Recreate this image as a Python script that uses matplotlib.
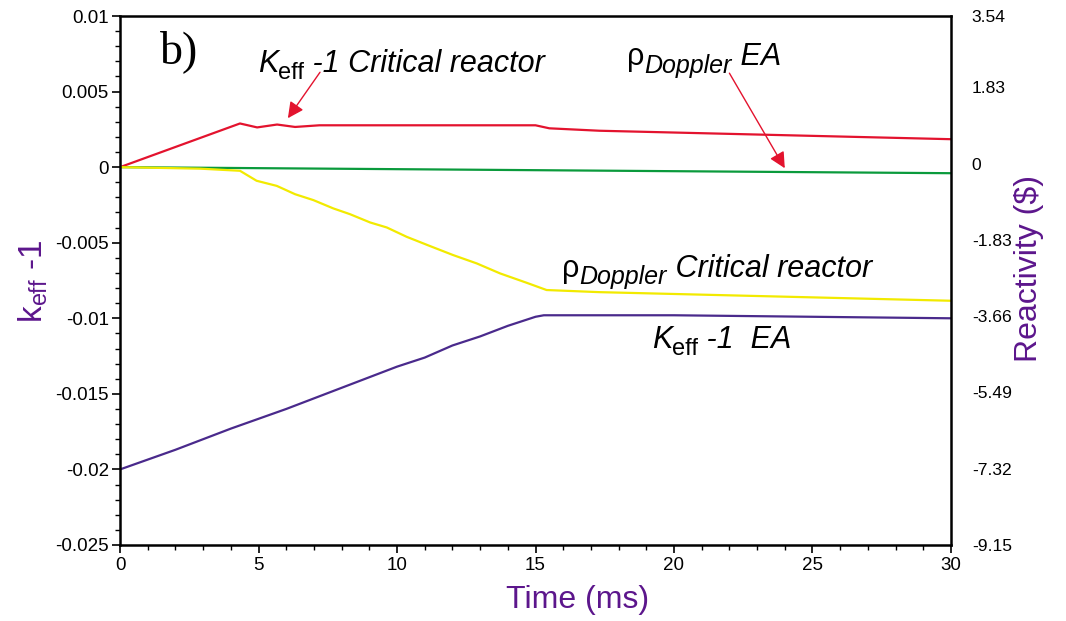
import numpy as np
import matplotlib
matplotlib.use("Agg")
import matplotlib.pyplot as plt
from matplotlib.ticker import MultipleLocator

plt.rcParams['font.family'] = ['Liberation Sans', 'DejaVu Sans']
plt.rcParams['mathtext.fontset'] = 'custom'
plt.rcParams['mathtext.rm'] = 'Liberation Sans'
plt.rcParams['mathtext.it'] = 'Liberation Sans:italic'
plt.rcParams['mathtext.bf'] = 'Liberation Sans:bold'

# keff-1, reacteur critique (rouge)
t_crit = [0, 4.33, 4.95, 5.67, 6.32, 7.2, 10, 15.0, 15.5, 17.3, 30]
k_crit = [0, 0.00289, 0.00263, 0.00282, 0.00266, 0.00277, 0.00277, 0.00277, 0.00257, 0.00241, 0.00185]

# rho Doppler EA (vert)
t_dop_ea = [0, 30]
r_dop_ea = [0, -0.0004]

# rho Doppler reacteur critique (jaune)
t_dop_crit = [0, 2.9, 4.33, 4.93, 5.66, 6.32, 6.98, 7.7, 8.3, 9.03, 9.63, 10.35, 11.19,
              12.03, 12.88, 13.72, 14.68, 15.4, 17.3, 30]
r_dop_crit = [0, -0.0001, -0.00024, -0.0009, -0.00124, -0.00179, -0.00218, -0.00273, -0.00311,
              -0.00366, -0.00399, -0.00461, -0.00522, -0.00582, -0.00637, -0.00703, -0.00765,
              -0.00813, -0.00827, -0.00884]

# keff-1 EA (violet)
t_ea = [0, 2, 4, 6, 8, 10, 11, 12, 13, 14, 15, 15.3, 20, 25, 30]
k_ea = [-0.02, -0.0187, -0.0173, -0.0160, -0.0146, -0.0132, -0.0126, -0.0118, -0.0112,
        -0.0105, -0.0099, -0.0098, -0.0098, -0.0099, -0.0100]

reac_ticks = [3.54, 1.83, 0, -1.83, -3.66, -5.49, -7.32, -9.15]

violet = '#5c168c'
rouge = '#e3132e'


def etiquette(ax, x, y, morceaux):
    # morceaux : (texte, taille, style, decalage vertical en points)
    txt, fs, st, dy = morceaux[0]
    prec = ax.text(x, y, txt, fontsize=fs, style=st, va='baseline', ha='left')
    for txt, fs, st, dy in morceaux[1:]:
        prec = ax.annotate(txt, xy=(1, y), xycoords=(prec, 'data'), xytext=(0, dy),
                           textcoords='offset points', fontsize=fs, style=st,
                           va='baseline', ha='left')


def fleche(ax, pointe, queue):
    ax.annotate('', xy=pointe, xytext=queue,
                arrowprops=dict(arrowstyle='-|>', color=rouge, lw=1.0, mutation_scale=24,
                                shrinkA=0, shrinkB=0))


fig = plt.figure(figsize=(10.66, 6.21), dpi=100)
ax = fig.add_axes([0.1126, 0.1224, 0.7795, 0.8518])

ax.plot(t_crit, k_crit, color=rouge, lw=1.6)
ax.plot(t_dop_ea, r_dop_ea, color='#0a9a3c', lw=1.6)
ax.plot(t_dop_crit, r_dop_crit, color='#f2ea00', lw=1.6)
ax.plot(t_ea, k_ea, color='#4a2a8c', lw=1.6)

ax.set_xlim(0, 30)
ax.set_ylim(-0.025, 0.01)
ax.xaxis.set_major_locator(MultipleLocator(5))
ax.xaxis.set_minor_locator(MultipleLocator(1))
ax.yaxis.set_minor_locator(MultipleLocator(0.001))
ax.set_yticks([0.01, 0.005, 0, -0.005, -0.01, -0.015, -0.02, -0.025])
ax.set_yticklabels(['0.01', '0.005', '0', '-0.005', '-0.01', '-0.015', '-0.02', '-0.025'])
ax.tick_params(which='major', length=6, width=1.2, labelsize=13.5, pad=2)
ax.tick_params(which='minor', length=3.5, width=1.0)
ax.tick_params(axis='x', which='major', pad=3)
for s in ax.spines.values():
    s.set_linewidth(1.8)

ax2 = ax.twinx()
ax2.set_ylim(-9.15, 3.54)
ax2.set_yticks(reac_ticks)
ax2.set_yticklabels(['%g' % v for v in reac_ticks])
ax2.tick_params(length=0, labelsize=12.6, pad=15)
for s in ax2.spines.values():
    s.set_visible(False)

ax.set_xlabel('Time (ms)', fontsize=23, color=violet)
ax.xaxis.set_label_coords(0.551, -0.076)
ax.set_ylabel(r'k$_{\mathrm{eff}}$ -1', fontsize=24, color=violet)
ax.yaxis.set_label_coords(-0.084, 0.499)
ax2.set_ylabel('Reactivity ($)', fontsize=23, color=violet, rotation=90)
ax2.yaxis.set_label_coords(1.076, 0.522)

ax.text(1.45, 0.00688, 'b)', fontsize=33, family='Liberation Serif', va='baseline')

# textes et fleches
etiquette(ax, 4.98, 0.00631, [('K', 22, 'italic', 0), ('eff', 17, 'normal', -5),
                             (' -1 Critical reactor', 22, 'italic', 0)])
fleche(ax, (6.06, 0.00324), (7.22, 0.00628))

etiquette(ax, 18.3, 0.00675, [('\u03c1', 22, 'normal', 0), ('Doppler', 18, 'italic', -5.5),
                             (' EA', 22, 'italic', 0)])
fleche(ax, (24.0, -0.00007), (22.0, 0.00622))

etiquette(ax, 15.95, -0.00725, [('\u03c1', 22, 'normal', 0), ('Doppler', 18, 'italic', -5),
                               (' Critical reactor', 22, 'italic', 0)])

etiquette(ax, 19.2, -0.01197, [('K', 22, 'italic', 0), ('eff', 17, 'normal', -5),
                              (' -1  EA', 22, 'italic', 0)])

fig.savefig('out.png', dpi=100)
